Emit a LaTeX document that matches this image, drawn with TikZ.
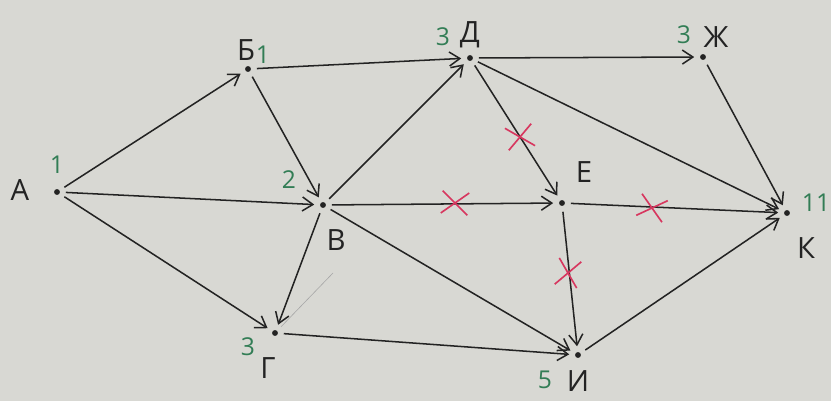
\documentclass[tikz,border=0pt]{standalone}
\usepackage{fontspec}
\newfontfamily\handfont{Open Sans}
\usetikzlibrary{arrows.meta,shapes.misc}
\definecolor{paper}{RGB}{216,216,211}
\definecolor{ink}{RGB}{35,35,35}
\definecolor{mark}{RGB}{50,125,85}
\definecolor{cross}{RGB}{215,55,95}
\tikzset{
  dot/.style={circle,fill=ink,inner sep=0pt,minimum size=5pt,outer sep=5pt},
  arr/.style={draw=ink,line width=1.3pt,-{Straight Barb[length=9pt,width=12pt,line width=1.3pt]}},
  lbl/.style={font=\handfont\fontsize{25}{27}\selectfont,text=ink,inner sep=0pt},
  num/.style={font=\handfont\fontsize{21}{23}\selectfont,text=mark,inner sep=0pt},
  cut/.style={cross out,draw=cross,line width=1.4pt,minimum width=0.75cm,minimum height=0.62cm,inner sep=0pt}
}
\begin{document}
\begin{tikzpicture}[x=0.03cm,y=-0.03cm]
  \fill[paper] (0,0) rectangle (831,401);
  \useasboundingbox (0,0) rectangle (831,401);
  \node[dot] (A) at (57,192) {};
  \node[dot] (B) at (248,69) {};
  \node[dot] (V) at (323,205) {};
  \node[dot] (G) at (275,333) {};
  \node[dot] (D) at (470,58) {};
  \node[dot] (Zh) at (703,57) {};
  \node[dot] (E) at (562,203) {};
  \node[dot] (I) at (578,355) {};
  \node[dot] (K) at (787,213) {};
  \node[lbl] (A-l) at (20,190) {А};
  \node[lbl] (B-l) at (246,50) {Б};
  \node[lbl] (V-l) at (336,240) {В};
  \node[lbl] (G-l) at (268,368) {Г};
  \node[lbl] (D-l) at (470,35) {Д};
  \node[lbl] (Zh-l) at (716,37) {Ж};
  \node[lbl] (E-l) at (584,172) {Е};
  \node[lbl] (I-l) at (578,381) {И};
  \node[lbl] (K-l) at (806,248) {К};
  \node[num] (A-n) at (57,165) {1};
  \node[num] (B-n) at (263,55) {1};
  \node[num] (V-n) at (289,180) {2};
  \node[num] (G-n) at (248,347) {3};
  \node[num] (D-n) at (443,37) {3};
  \node[num] (Zh-n) at (684,35) {3};
  \node[num] (I-n) at (545,380) {5};
  \node[num] (K-n) at (816,203) {11};
  \draw[arr] (A) -- (B);
  \draw[arr] (A) -- (V);
  \draw[arr] (A) -- (G);
  \draw[arr] (B) -- (D);
  \draw[arr] (B) -- (V);
  \draw[arr] (V) -- (D);
  \draw[arr] (V) -- (E);
  \draw[arr] (V) -- (I);
  \draw[arr] (V) -- (G);
  \draw[arr] (G) -- (I);
  \draw[arr] (D) -- (Zh);
  \draw[arr] (D) -- (E);
  \draw[arr] (D) -- (K);
  \draw[arr] (Zh) -- (K);
  \draw[arr] (E) -- (K);
  \draw[arr] (E) -- (I);
  \draw[arr] (I) -- (K);
  \coordinate (gv) at (333,273);
  \draw[gray!70,line width=0.5pt] (G) -- (gv);
  \node[cut,rotate=10] (x-DE) at (520,137) {};
  \node[cut,rotate=-5] (x-VE) at (455,203) {};
  \node[cut,rotate=-15] (x-EK) at (652,208) {};
  \node[cut,rotate=80] (x-EI) at (568,273) {};
\end{tikzpicture}
\end{document}
